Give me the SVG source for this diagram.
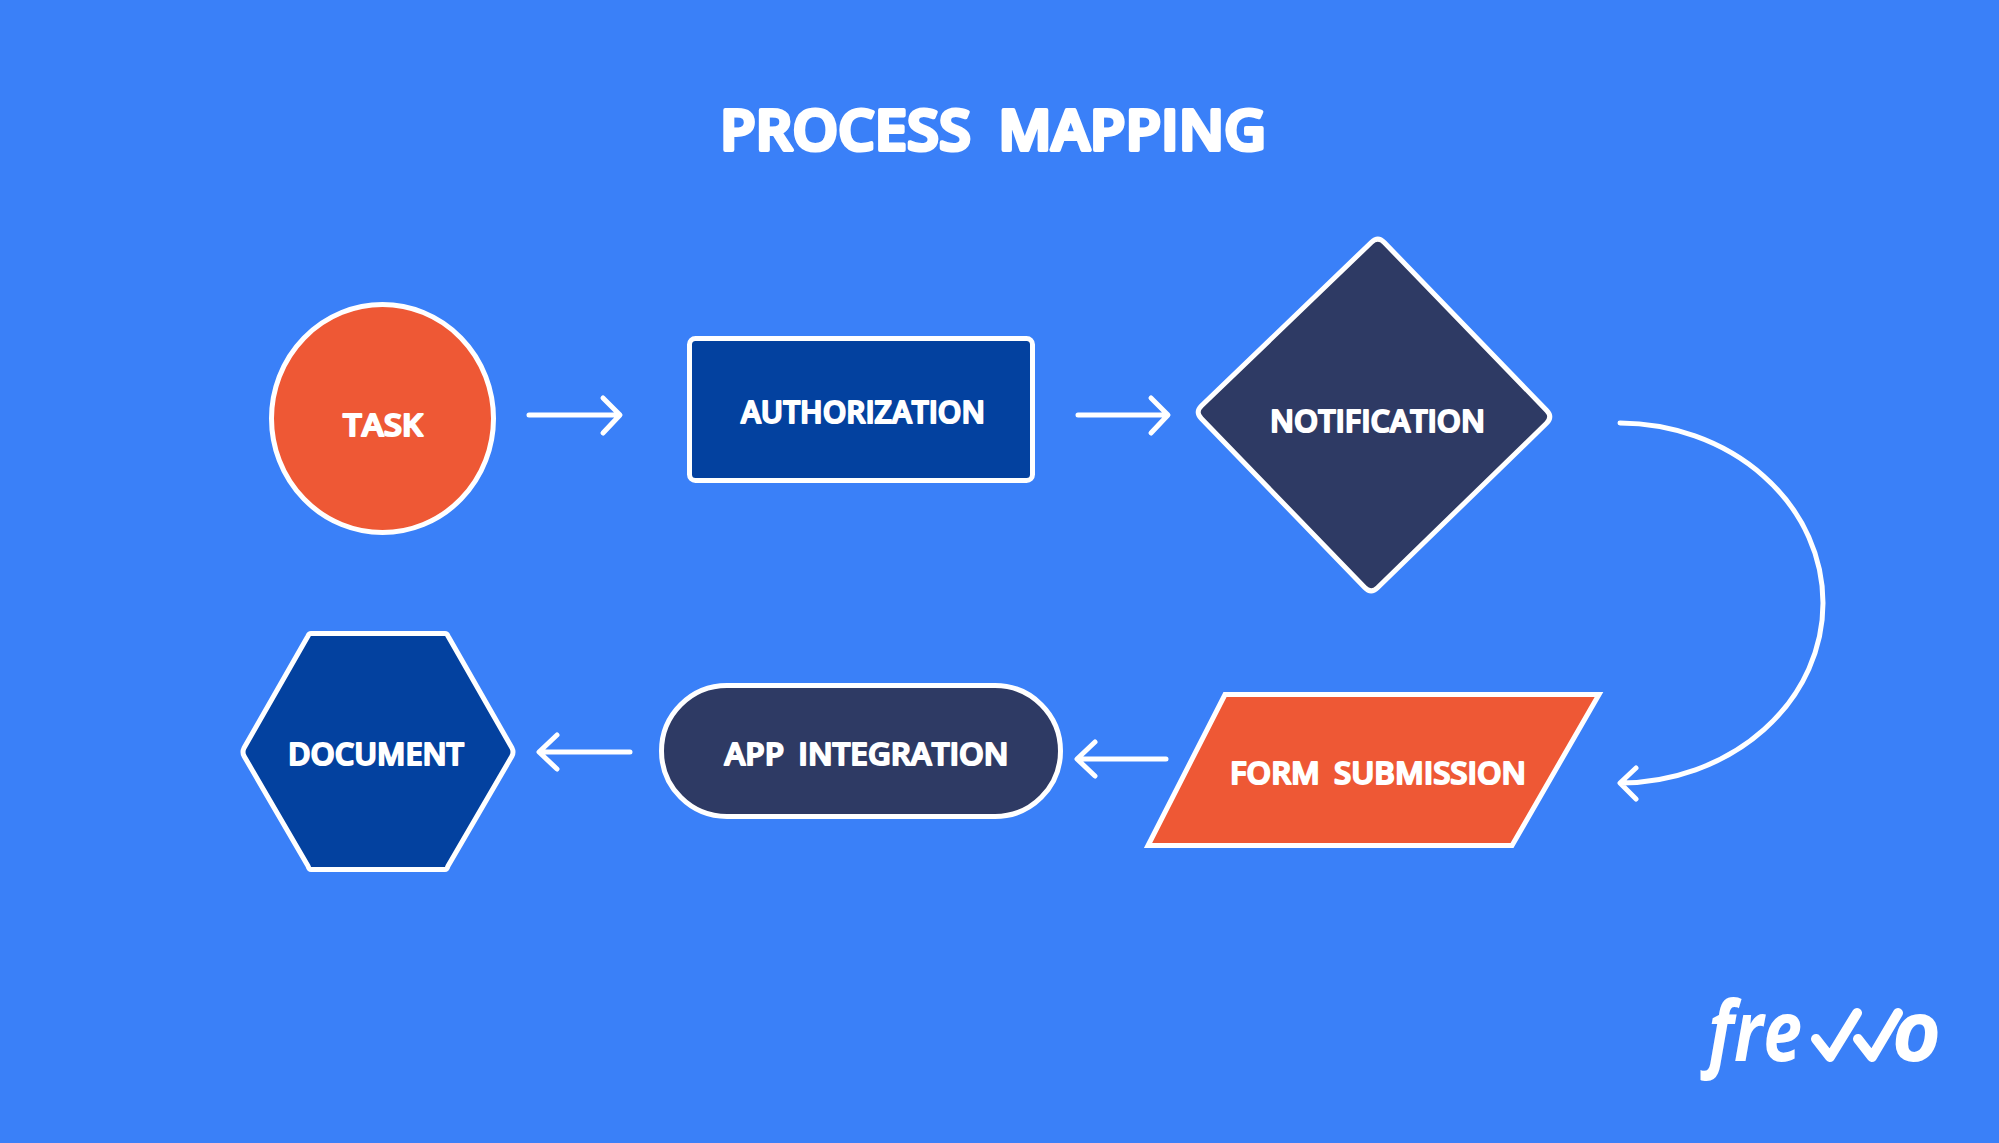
<svg xmlns="http://www.w3.org/2000/svg" width="1999" height="1143" viewBox="0 0 1999 1143">
<style>
.s{stroke:#fff;stroke-width:5;stroke-linejoin:round}
.t{font-family:"Open Sans","Liberation Sans",sans-serif;font-weight:600;font-size:31px;fill:#fff;stroke:#fff;stroke-width:2;stroke-linejoin:round;word-spacing:6px}
.c{fill:none;stroke:#fff;stroke-width:5;stroke-linecap:round;stroke-linejoin:round}
.l{font-family:"Open Sans","Liberation Sans",sans-serif;font-style:italic;font-weight:700;font-size:84px;fill:#fff}
</style>
<rect width="1999" height="1143" fill="#3a80f8"/>
<text id="title" x="720" y="149.500" class="t" style="font-size:56px;stroke-width:4;word-spacing:12px" textLength="546" lengthAdjust="spacingAndGlyphs">PROCESS MAPPING</text>
<g id="connectors">
<path class="c" d="M529 415H619M603 398L620 415L603 433"/>
<path class="c" d="M1078 415H1166M1151 398L1168 415L1151 433"/>
<path class="c" d="M1620 423A204 180 0 0 1 1823 603A204 180 0 0 1 1621 783M1636 768L1620 783L1636 799"/>
<path class="c" d="M1166 759H1079M1095 742L1077 759L1095 776"/>
<path class="c" d="M630 752H541M557 735L539 752L557 769"/>
</g>
<g id="task"><ellipse class="s" cx="382.500" cy="418.500" rx="111" ry="114" fill="#ee5835"/><text class="t" x="343" y="436" textLength="80" lengthAdjust="spacingAndGlyphs">TASK</text></g>
<g id="authorization"><rect class="s" x="689.500" y="338.500" width="343" height="142" rx="6" fill="#03419f"/><text class="t" x="741" y="423" textLength="244" lengthAdjust="spacingAndGlyphs">AUTHORIZATION</text></g>
<g id="notification"><path class="s" d="M1371.500 242.200Q1378 236 1384.300 242.500L1546.700 410.500Q1553 417 1546.500 423.300L1377.500 587.700Q1371 594 1364.700 587.500L1201.300 418.500Q1195 412 1201.500 405.800Z" fill="#2e3a64"/><text class="t" x="1270" y="432" textLength="215" lengthAdjust="spacingAndGlyphs">NOTIFICATION</text></g>
<g id="form-submission"><path class="s" style="stroke-linejoin:miter" d="M1225 694.500H1599L1512 845.500H1148Z" fill="#ee5835"/><text class="t" x="1230" y="784" textLength="296" lengthAdjust="spacingAndGlyphs">FORM SUBMISSION</text></g>
<g id="app-integration"><rect class="s" x="661.500" y="685.500" width="399" height="131" rx="65.500" fill="#2e3a64"/><text class="t" x="724.500" y="765" textLength="284" lengthAdjust="spacingAndGlyphs">APP INTEGRATION</text></g>
<g id="document"><path class="s" d="M311 633.500H445Q447 633.500 448 636L512 748Q514 752 512 756L448 866Q447 869.500 445 869.500H311Q309 869.500 308 866L244 756Q242 752 244 748L308 636Q309 633.500 311 633.500Z" fill="#03419f"/><text class="t" x="288" y="765" textLength="176" lengthAdjust="spacingAndGlyphs">DOCUMENT</text></g>
<g id="logo"><text class="l" x="1708" y="1061" textLength="94" lengthAdjust="spacingAndGlyphs">fre</text><path fill="none" stroke="#fff" stroke-width="10" stroke-linecap="round" stroke-linejoin="round" d="M1816 1039L1830 1057L1857 1013M1858 1039L1872 1057L1898 1013"/><text class="l" x="1892" y="1061">o</text></g>
</svg>
